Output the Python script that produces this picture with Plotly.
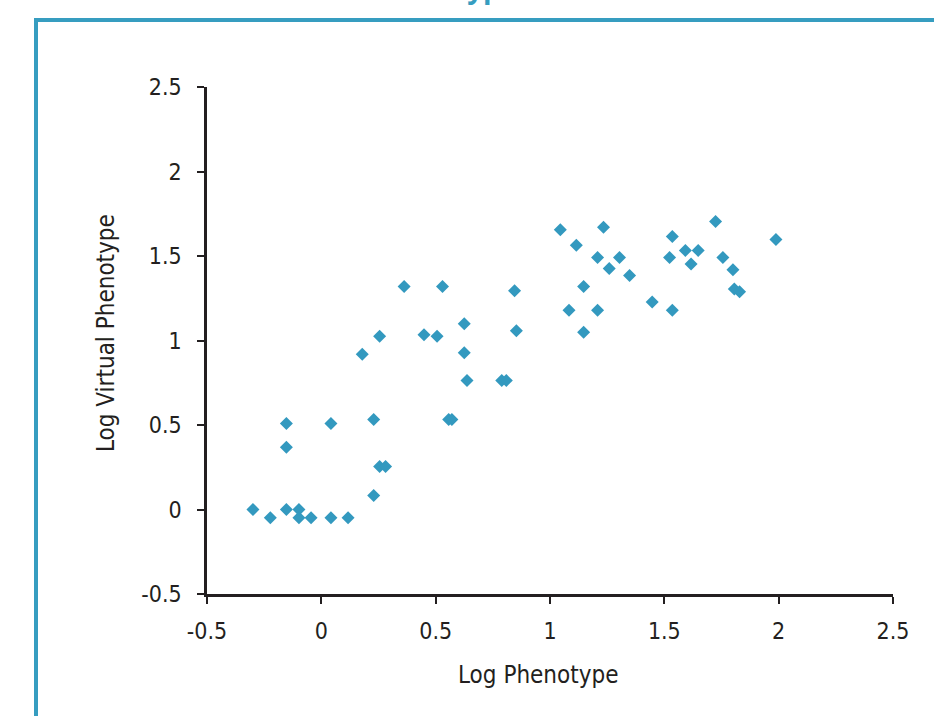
import plotly.graph_objects as go

log_phenotype = [
    -0.299, -0.223, -0.153, -0.098, -0.098, -0.045, 0.042, 0.117,
    -0.153, -0.153, 0.042, 0.229, 0.229, 0.255, 0.281,
    0.179, 0.255, 0.362, 0.530, 0.449, 0.506, 0.625, 0.625, 0.637,
    0.557, 0.571, 0.789, 0.809, 0.845, 0.853,
    1.045, 1.234, 1.115, 1.208, 1.304, 1.259, 1.348, 1.147, 1.083,
    1.208, 1.147, 1.447, 1.535, 1.523, 1.535, 1.592, 1.648, 1.617,
    1.724, 1.756, 1.800, 1.806, 1.829, 1.988,
]
log_virtual_phenotype = [
    0.0, -0.049, 0.0, 0.0, -0.049, -0.049, -0.049, -0.049,
    0.509, 0.369, 0.509, 0.083, 0.533, 0.254, 0.254,
    0.919, 1.025, 1.320, 1.320, 1.034, 1.025, 1.099, 0.927, 0.763,
    0.533, 0.533, 0.763, 0.763, 1.294, 1.057,
    1.655, 1.670, 1.564, 1.491, 1.491, 1.426, 1.385, 1.320, 1.179,
    1.179, 1.049, 1.228, 1.179, 1.491, 1.615, 1.533, 1.533, 1.452,
    1.704, 1.491, 1.418, 1.304, 1.288, 1.598,
]
tick_vals = [-0.5, 0, 0.5, 1, 1.5, 2, 2.5]
tick_text = ["-0.5", "0", "0.5", "1", "1.5", "2", "2.5"]
x_title = "Log Phenotype"
y_title = "Log Virtual Phenotype"
chart_title = "Virtual Phenotype"

FONT = "DejaVu Sans Condensed, Liberation Sans Narrow, sans-serif"
TEAL = "#369dc0"
INK = "#231f20"

fig = go.Figure()
fig.add_trace(go.Scatter(
    x=log_phenotype, y=log_virtual_phenotype, mode="markers",
    marker=dict(symbol="diamond", size=10, color="#3399bf"),
    showlegend=False, hoverinfo="x+y",
))

axis_common = dict(
    showgrid=False, zeroline=False, showline=True, linecolor=INK,
    linewidth=2.5, ticks="outside", ticklen=7, tickwidth=2, tickcolor=INK,
    tickfont=dict(family=FONT, size=23, color=INK),
    tickmode="array", tickvals=tick_vals, ticktext=tick_text,
    range=[-0.5, 2.5], fixedrange=True,
)
fig.update_xaxes(**axis_common, ticklabelstandoff=8)
fig.update_yaxes(**axis_common, ticklabelstandoff=11)

def px_x(px):
    return (px - 207) / 686.0

def px_y(py):
    return (594 - py) / 507.0

fig.add_annotation(text=x_title, xref="paper", yref="paper",
                   x=px_x(538), xanchor="center", y=px_y(675), yanchor="middle",
                   showarrow=False, font=dict(family=FONT, size=24, color=INK))
fig.add_annotation(text=y_title, xref="paper", yref="paper", textangle=-90,
                   x=px_x(106), xanchor="center", y=px_y(333), yanchor="middle",
                   showarrow=False, font=dict(family=FONT, size=24, color=INK))

fig.add_shape(type="line", xref="paper", yref="paper",
              x0=px_x(36), x1=px_x(36), y0=px_y(18), y1=px_y(730),
              line=dict(color=TEAL, width=4))
fig.add_shape(type="line", xref="paper", yref="paper",
              x0=px_x(34), x1=px_x(950), y0=px_y(20), y1=px_y(20),
              line=dict(color=TEAL, width=4))

fig.add_annotation(text="<b>" + chart_title + "</b>", xref="paper", yref="paper",
                   x=px_x(262), xanchor="left", y=px_y(8), yanchor="bottom",
                   showarrow=False, font=dict(family="Open Sans, sans-serif", size=28, color=TEAL))

fig.update_layout(
    width=934, height=716,
    margin=dict(l=207, r=41, t=87, b=122),
    plot_bgcolor="white", paper_bgcolor="white",
)

fig.write_html("out.html", config={"displayModeBar": False},
               post_script="document.body.style.margin='0';document.body.style.overflow='hidden';")
